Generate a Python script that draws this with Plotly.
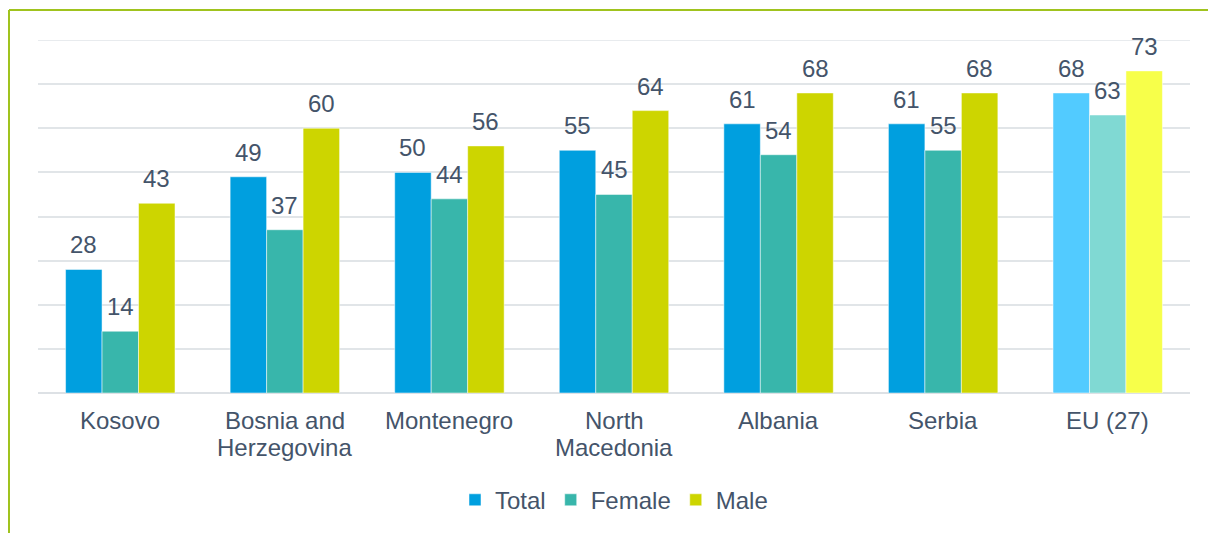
import plotly.graph_objects as go

categories = ["Kosovo", "Bosnia and Herzegovina", "Montenegro", "North Macedonia", "Albania", "Serbia", "EU (27)"]
cat_labels = ["Kosovo", "Bosnia and\nHerzegovina", "Montenegro", "North\nMacedonia", "Albania", "Serbia", "EU (27)"]
series_names = ["Total", "Female", "Male"]
total = [28, 49, 50, 55, 61, 61, 68]
female = [14, 37, 44, 45, 54, 55, 63]
male = [43, 60, 56, 64, 68, 68, 73]
y_ticks = [0, 10, 20, 30, 40, 50, 60, 70, 80]

base_colors = ["#009FDF", "#38B6AB", "#CDD500"]
eu_colors = ["#52CBFF", "#80D9D3", "#F7FF4A"]
text_color = "#44546A"
grid_color = "#E1E5E8"
font_family = "Liberation Sans, Arial, sans-serif"
fsize = 24

W, H = 1208, 533
L, R, T, B = 38, 18, 40, 139
bargap = 0.335

fig = go.Figure()
all_series = [total, female, male]
for j, (name, vals) in enumerate(zip(series_names, all_series)):
    colors = [base_colors[j]] * (len(categories) - 1) + [eu_colors[j]]
    fig.add_trace(go.Bar(
        x=categories, y=vals, name=name,
        marker=dict(color=colors, line=dict(width=0.5, color="white")),
        legendgroup=name,
    ))

# value labels
w = (1 - bargap) / 3
annotations = []
for j, vals in enumerate(all_series):
    for i, v in enumerate(vals):
        annotations.append(dict(
            x=i + (j - 1) * w, y=v, xref="x", yref="y",
            text=str(v), showarrow=False, yanchor="bottom", yshift=9,
            font=dict(size=fsize, color=text_color, family=font_family),
        ))

# category labels (multi-line, tight spacing)
for i, lab in enumerate(cat_labels):
    for k, line in enumerate(lab.split("\n")):
        annotations.append(dict(
            x=i, y=0, xref="x", yref="paper", borderpad=0,
            text=line, showarrow=False, yanchor="top", yshift=-13 - k * 27,
            font=dict(size=fsize, color=text_color, family=font_family),
        ))

plot_w = W - L - R
plot_h = H - T - B
bx = (9 - L) / plot_w
by = (H - B - 10) / plot_h
shapes = [
    dict(type="line", xref="paper", yref="paper", x0=bx, x1=bx, y0=by, y1=-1.0,
         line=dict(color="#A0C31E", width=2)),
    dict(type="line", xref="paper", yref="paper", x0=bx, x1=1.2, y0=by, y1=by,
         line=dict(color="#A0C31E", width=2)),
    # top gridline at the end of the axis range
    dict(type="line", xref="paper", yref="y", x0=0, x1=1, y0=y_ticks[-1], y1=y_ticks[-1],
         line=dict(color=grid_color, width=1.5), layer="below"),
]

fig.update_layout(
    width=W, height=H,
    margin=dict(l=L, r=R, t=T, b=B, pad=0),
    paper_bgcolor="white", plot_bgcolor="white",
    barmode="group", bargap=bargap, bargroupgap=0,
    font=dict(family=font_family, size=fsize, color=text_color),
    xaxis=dict(showticklabels=False, showgrid=False, zeroline=False, showline=False, ticks=""),
    yaxis=dict(range=[0, 80], tickvals=y_ticks, showticklabels=False, showgrid=True,
               gridcolor=grid_color, gridwidth=1.5, zeroline=True, zerolinecolor="#DDE1E5",
               zerolinewidth=1.5, showline=False, ticks=""),
    legend=dict(orientation="h", x=0.5, xanchor="center", y=-0.30, yanchor="middle",
                font=dict(size=fsize, color=text_color, family=font_family),
                itemwidth=30, traceorder="normal"),
    annotations=annotations,
    shapes=shapes,
)

fig.write_html("out.html", config={"displayModeBar": False},
               post_script="document.body.style.margin='0';")
